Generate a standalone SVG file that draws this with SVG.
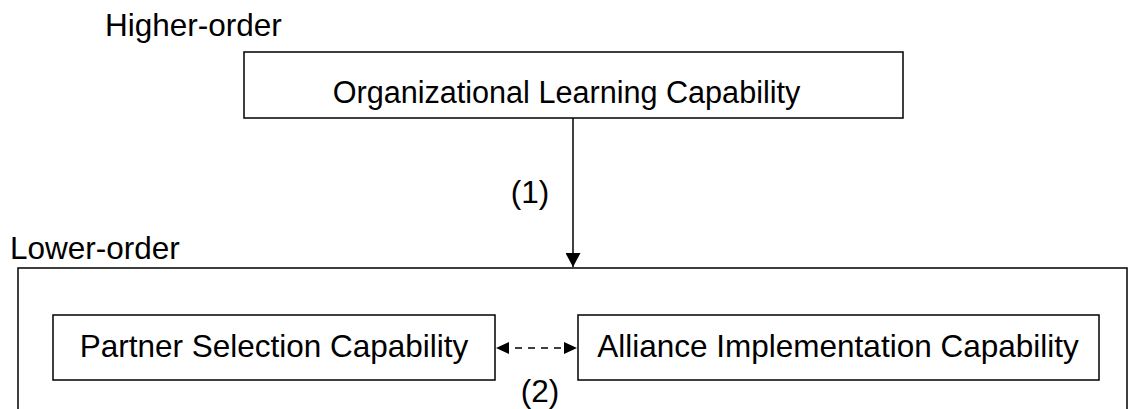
<svg xmlns="http://www.w3.org/2000/svg" width="1128" height="409" viewBox="0 0 1128 409">
  <defs>
    <marker id="arrow" viewBox="0 0 13 12" refX="13" refY="6" markerWidth="13" markerHeight="12" markerUnits="userSpaceOnUse" orient="auto-start-reverse">
      <path d="M0,0 L13,6 L0,12 z" fill="#000"/>
    </marker>
    <marker id="arrowBig" viewBox="0 0 14 15" refX="14" refY="7.5" markerWidth="14" markerHeight="15" markerUnits="userSpaceOnUse" orient="auto">
      <path d="M0,0 L14,7.5 L0,15 z" fill="#000"/>
    </marker>
  </defs>
  <style>
    .box { fill: #fff; stroke: #000; stroke-width: 1.5; }
    .lbl { font-family: "Liberation Sans", Arial, sans-serif; font-size: 31.5px; fill: #000; }
    .mid { text-anchor: middle; }
    .line { stroke: #000; stroke-width: 1.5; fill: none; }
  </style>

  <g id="higher-order">
    <text class="lbl" x="105" y="36">Higher-order</text>
    <g id="organizational-learning">
      <rect class="box" x="244" y="52" width="659" height="66"/>
      <text class="lbl mid" x="566.5" y="103" style="font-size:30.6px">Organizational Learning Capability</text>
    </g>
  </g>

  <g id="lower-order">
    <text class="lbl" x="10" y="259">Lower-order</text>
    <rect class="box" x="18" y="268" width="1109" height="160"/>
    <g id="partner-selection">
      <rect class="box" x="53" y="315" width="442" height="65"/>
      <text class="lbl mid" x="274" y="357">Partner Selection Capability</text>
    </g>
    <g id="alliance-implementation">
      <rect class="box" x="578" y="315" width="521" height="65"/>
      <text class="lbl mid" x="838" y="357">Alliance Implementation Capability</text>
    </g>
  </g>

  <g id="connectors">
    <line class="line" x1="573" y1="118" x2="573" y2="267" marker-end="url(#arrowBig)"/>
    <text class="lbl mid" x="530" y="203">(1)</text>
    <line class="line" x1="496" y1="348" x2="577" y2="348" stroke-dasharray="7,6" stroke-dashoffset="-6" marker-start="url(#arrow)" marker-end="url(#arrow)"/>
    <text class="lbl mid" x="540" y="402">(2)</text>
  </g>
</svg>
